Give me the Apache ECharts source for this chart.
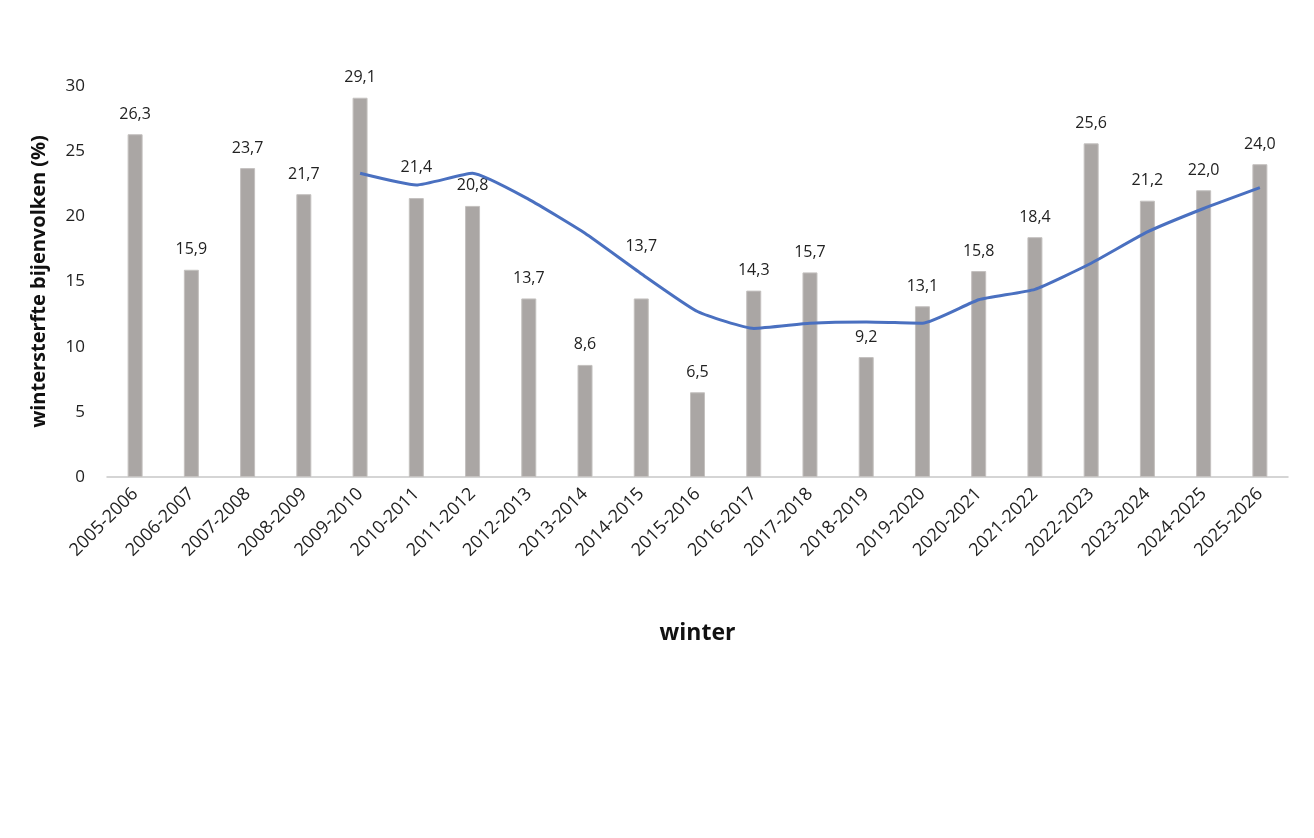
<!DOCTYPE html>
<html>
	<head>
		<meta charset="UTF-8">
		<title>wintersterfte bijenvolken</title>
		<style>
			html, body { margin: 0; padding: 0; background: #fff; }
			#chart { width: 1314px; height: 838px; }
		</style>
	</head>
	<body>
		<div id="chart"></div>
	</body>
	<script src="https://cdn.jsdelivr.net/npm/echarts@6/dist/echarts.min.js" type="text/javascript" charset="utf-8"></script>
	<script type="text/javascript">
		// winters
		var winters = ['2005-2006', '2006-2007', '2007-2008', '2008-2009', '2009-2010', '2010-2011', '2011-2012',
			'2012-2013', '2013-2014', '2014-2015', '2015-2016', '2016-2017', '2017-2018', '2018-2019',
			'2019-2020', '2020-2021', '2021-2022', '2022-2023', '2023-2024', '2024-2025', '2025-2026'];
		// wintersterfte per winter (%)
		var sterfte = [26.3, 15.9, 23.7, 21.7, 29.1, 21.4, 20.8, 13.7, 8.6, 13.7, 6.5, 14.3, 15.7, 9.2,
			13.1, 15.8, 18.4, 25.6, 21.2, 22.0, 24.0];
		var trend = [null, null, null, null, 23.3, 22.4, 23.3, 21.3, 18.7, 15.6, 12.7, 11.4, 11.8, 11.9,
			11.8, 13.6, 14.4, 16.4, 18.8, 20.6, 22.2];
		var yTicks = [0, 5, 10, 15, 20, 25, 30];

		var chart = echarts.init(document.getElementById('chart'));
		var font = 'Open Sans';

		//labels die boven de lijn uitgeschoven zijn
		var labelLift = { 5: 11, 9: 32 };
		var barData = sterfte.map(function (v, i) {
			if (labelLift[i]) {
				return { value: v, label: { distance: 12 + labelLift[i] } };
			}
			return v;
		});

		chart.setOption({
			animation: false,
			grid: { left: 107, right: 26, top: 86, bottom: 361 },
			xAxis: {
				type: 'category',
				data: winters,
				name: 'winter',
				nameLocation: 'middle',
				nameGap: 145,
				nameTextStyle: { fontFamily: font, fontSize: 23, fontWeight: 'bold', color: '#111' },
				axisLine: { lineStyle: { color: '#c8c8c8', width: 1.5 } },
				axisTick: { show: false },
				axisLabel: { rotate: 45, interval: 0, margin: 14, fontFamily: font, fontSize: 18, color: '#222' }
			},
			yAxis: {
				type: 'value',
				min: yTicks[0],
				max: yTicks[yTicks.length - 1],
				interval: 5,
				name: 'wintersterfte bijenvolken (%)',
				nameLocation: 'middle',
				nameGap: 58,
				nameTextStyle: { fontFamily: font, fontSize: 20, fontWeight: 'bold', color: '#111' },
				axisLine: { show: false },
				axisTick: { show: false },
				splitLine: { show: false },
				axisLabel: { margin: 22, fontFamily: font, fontSize: 17, color: '#222' }
			},
			series: [{
				name: 'wintersterfte',
				type: 'bar',
				data: barData,
				barWidth: 15,
				itemStyle: { color: '#aaa6a4', borderColor: '#c4c1bf', borderWidth: 1 },
				label: {
					show: true,
					position: 'top',
					distance: 12,
					fontFamily: font,
					fontSize: 16,
					color: '#222',
					formatter: function (p) { return p.value.toFixed(1).replace('.', ','); }
				}
			}, {
				name: 'trend',
				type: 'line',
				data: trend,
				smooth: 0.15,
				symbol: 'none',
				lineStyle: { color: '#4a70c0', width: 3 },
				z: 3
			}]
		});
	</script>
</html>
